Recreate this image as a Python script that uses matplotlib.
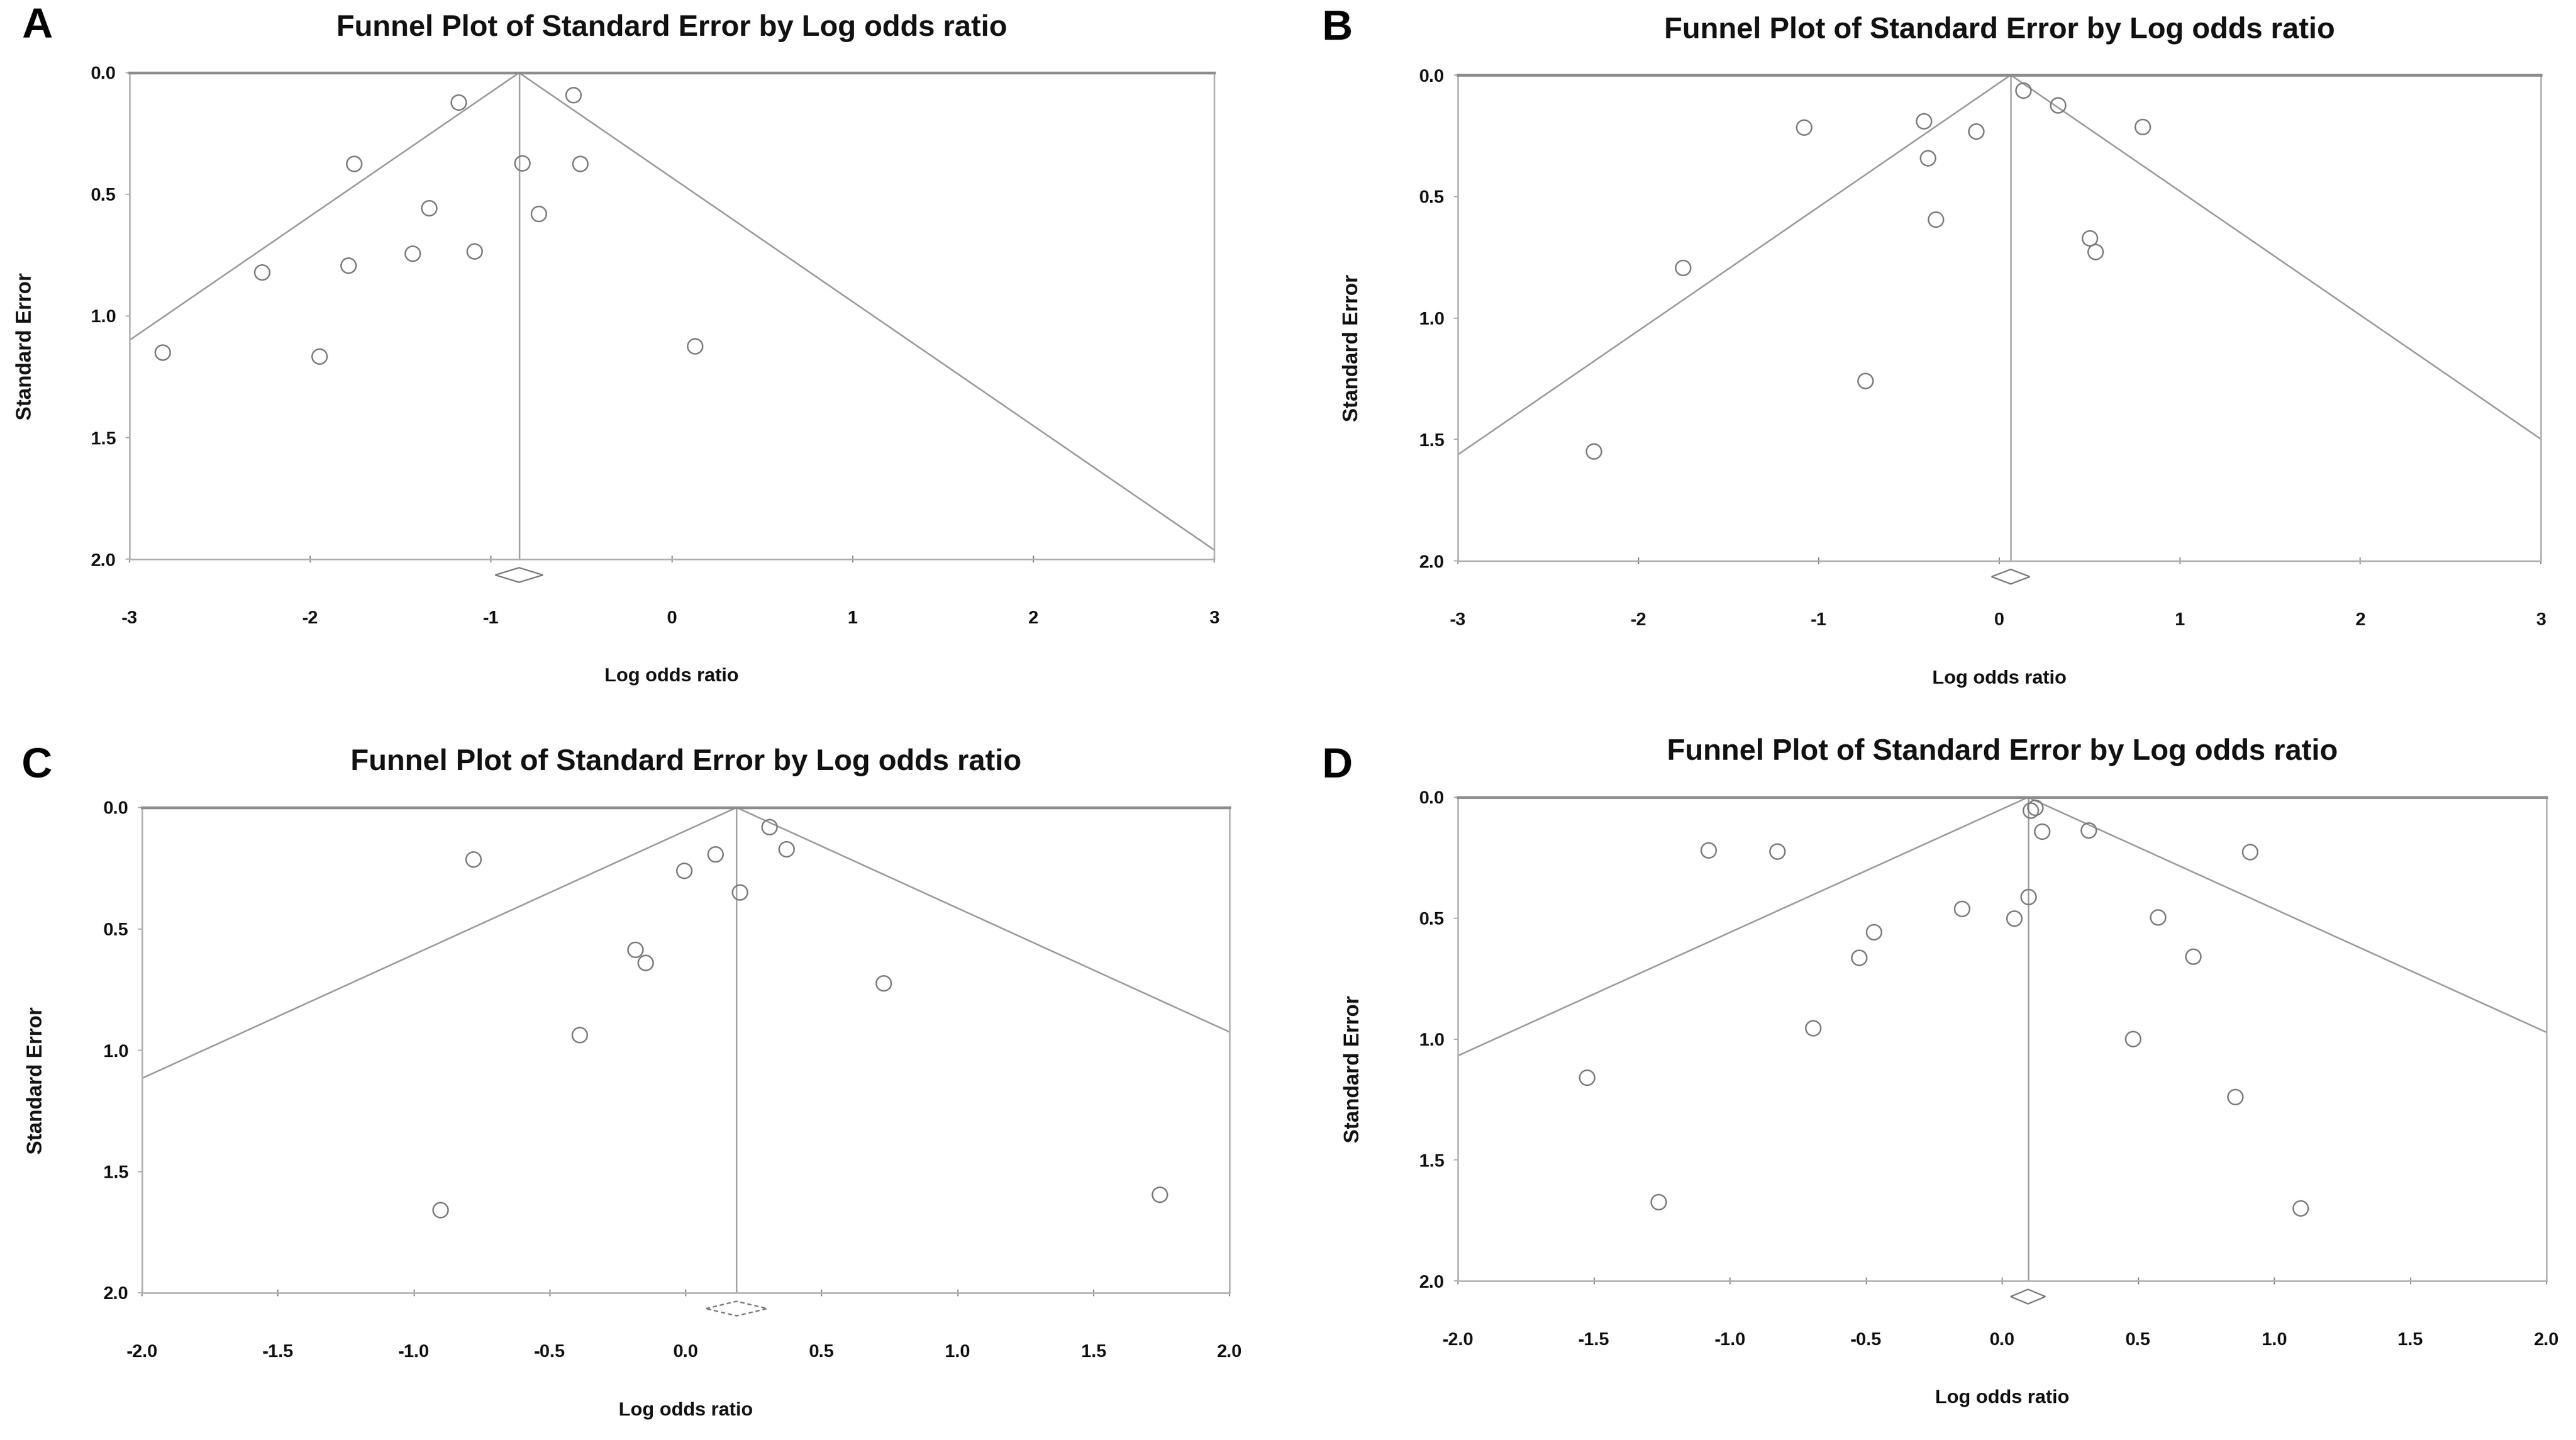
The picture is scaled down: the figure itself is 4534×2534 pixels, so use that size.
import matplotlib
matplotlib.use("Agg")
import matplotlib.pyplot as plt
import numpy as np
from matplotlib.patches import Polygon

# ---------------- data ----------------
panel_letters = ["A", "B", "C", "D"]
title_text = "Funnel Plot of Standard Error by Log odds ratio"
xlabel_text = "Log odds ratio"
ylabel_text = "Standard Error"

a_lor = [-1.18, -0.545, -1.759, -0.827, -0.509, -1.345, -0.736, -2.268, -1.791, -1.436, -1.091, -2.818, -1.95, 0.127]
a_se = [0.121, 0.092, 0.375, 0.372, 0.375, 0.557, 0.579, 0.821, 0.791, 0.743, 0.734, 1.149, 1.166, 1.123]

b_lor = [0.131, 0.323, -1.084, -0.419, -0.128, 0.792, -0.396, -0.351, 0.500, 0.532, -1.753, -0.742, -2.249]
b_se = [0.064, 0.123, 0.215, 0.189, 0.232, 0.212, 0.342, 0.595, 0.672, 0.727, 0.793, 1.258, 1.549]

c_lor = [0.308, 0.369, -0.782, 0.109, -0.006, 0.199, -0.187, -0.148, 0.728, -0.390, -0.903, 1.743]
c_se = [0.079, 0.170, 0.212, 0.191, 0.261, 0.348, 0.585, 0.640, 0.723, 0.937, 1.658, 1.595]

d_lor = [0.104, 0.122, 0.146, 0.318, -1.079, -0.826, 0.910, 0.095, -0.149, 0.044, 0.572, -0.472,
         -0.527, 0.702, -0.696, 0.481, -1.526, 0.856, -1.263, 1.097]
d_se = [0.055, 0.042, 0.142, 0.137, 0.218, 0.224, 0.226, 0.412, 0.461, 0.501, 0.497, 0.558,
        0.662, 0.658, 0.954, 0.998, 1.159, 1.239, 1.674, 1.700]

pooled = [-0.845, 0.063, 0.187, 0.095]
pooled_lo = [-0.977, -0.043, 0.074, 0.031]
pooled_hi = [-0.713, 0.169, 0.300, 0.159]

xticks_ab = [-3, -2, -1, 0, 1, 2, 3]
xticklabels_ab = ["-3", "-2", "-1", "0", "1", "2", "3"]
xticks_cd = [-2.0, -1.5, -1.0, -0.5, 0.0, 0.5, 1.0, 1.5, 2.0]
xticklabels_cd = ["-2.0", "-1.5", "-1.0", "-0.5", "0.0", "0.5", "1.0", "1.5", "2.0"]
yticks = [0.0, 0.5, 1.0, 1.5, 2.0]
yticklabels = ["0.0", "0.5", "1.0", "1.5", "2.0"]

# ---------------- layout ----------------
W, H = 4534, 2534
fig = plt.figure(figsize=(W / 100, H / 100), dpi=100)
fig.patch.set_facecolor("white")

NARROW = ["Liberation Sans Narrow", "Liberation Sans", "DejaVu Sans"]
WIDE = ["Liberation Sans", "DejaVu Sans"]

panels = [
    dict(rect=(228, 2137, 128, 984), lor=a_lor, se=a_se, xlim=(-3, 3), xt=xticks_ab, xtl=xticklabels_ab,
         letter=(65, 47), ylab_x=46, dash=False),
    dict(rect=(2566, 4472, 132, 987), lor=b_lor, se=b_se, xlim=(-3, 3), xt=xticks_ab, xtl=xticklabels_ab,
         letter=(2354, 50), ylab_x=2380, dash=False),
    dict(rect=(250, 2164, 1421, 2275), lor=c_lor, se=c_se, xlim=(-2, 2), xt=xticks_cd, xtl=xticklabels_cd,
         letter=(65, 1348), ylab_x=65, dash=True),
    dict(rect=(2566, 4482, 1403, 2254), lor=d_lor, se=d_se, xlim=(-2, 2), xt=xticks_cd, xtl=xticklabels_cd,
         letter=(2354, 1348), ylab_x=2383, dash=False),
]

LINE = "#9a9a9a"
MARK = "#7a7a7a"

for i, p in enumerate(panels):
    x0, x1, top, bot = p["rect"]
    ax = fig.add_axes([x0 / W, 1 - bot / H, (x1 - x0) / W, (bot - top) / H])
    ax.set_xlim(*p["xlim"])
    ax.set_ylim(2.0, 0.0)

    c = pooled[i]
    se_line = np.array([0.0, 2.0])
    ax.plot(c - 1.96 * se_line, se_line, color=LINE, lw=2.0, solid_capstyle="butt")
    ax.plot(c + 1.96 * se_line, se_line, color=LINE, lw=2.0, solid_capstyle="butt")
    ax.plot([c, c], [0.0, 2.0], color=LINE, lw=1.8)

    ax.plot(p["lor"], p["se"], linestyle="none", marker="o", markersize=19,
            markerfacecolor="none", markeredgecolor=MARK, markeredgewidth=1.9, clip_on=False)

    # pooled-estimate diamond below the axis
    yc, hh = 2.065, 0.03
    diamond = Polygon([[pooled_lo[i], yc], [c, yc - hh], [pooled_hi[i], yc], [c, yc + hh]],
                      closed=True, facecolor="none", edgecolor=MARK, lw=1.8,
                      linestyle=(0, (3, 2)) if p["dash"] else "-", clip_on=False)
    ax.add_patch(diamond)

    for side in ["left", "right", "bottom"]:
        ax.spines[side].set_color("#b0b0b0")
        ax.spines[side].set_linewidth(2.0)
    ax.spines["top"].set_color("#8c8c8c")
    ax.spines["top"].set_linewidth(3.5)

    ax.set_xticks(p["xt"])
    ax.set_xticklabels(p["xtl"])
    ax.set_yticks(yticks)
    ax.set_yticklabels(yticklabels)
    ax.tick_params(axis="x", direction="inout", length=9, width=1.6, color="#8c8c8c", pad=60,
                   labelsize=23)
    ax.tick_params(axis="y", direction="out", length=5, width=1.6, color="#b0b0b0", pad=12,
                   labelsize=23)
    for lab in ax.get_xticklabels() + ax.get_yticklabels():
        lab.set_fontfamily(NARROW)
        lab.set_fontweight("bold")
        lab.set_color("#111111")

    cx = (x0 + x1) / 2
    # title
    fig.text(cx / W, 1 - (top - 79) / H, title_text, ha="center", va="center",
             fontsize=37.5, fontweight="bold", family=NARROW, color="#111111")
    # x label
    fig.text(cx / W, 1 - (bot + 207) / H, xlabel_text, ha="center", va="center",
             fontsize=24.5, fontweight="bold", family=NARROW, color="#111111")
    # y label
    fig.text(p["ylab_x"] / W, 1 - ((top + bot) / 2 + 53) / H, ylabel_text, ha="center", va="center",
             rotation=90, fontsize=26.5, fontweight="bold", family=WIDE, color="#111111")
    # panel letter
    lx, ly = p["letter"]
    fig.text(lx / W, 1 - ly / H, panel_letters[i], ha="center", va="center",
             fontsize=54, fontweight="bold", family=WIDE, color="#000000")

fig.savefig("out.png", dpi=100, facecolor="white")
